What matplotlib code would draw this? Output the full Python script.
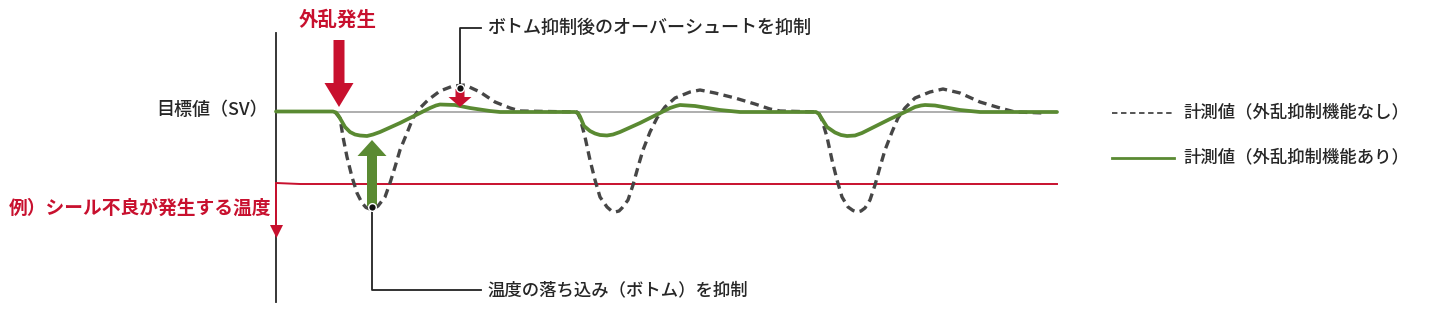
import matplotlib
matplotlib.use("Agg")
import matplotlib.pyplot as plt

plt.rcParams["font.family"] = ["Noto Sans CJK JP", "DejaVu Sans"]

RED = "#c8102e"
GREEN = "#5a8a32"
DASH = "#464646"
INK = "#262626"

# chart space is in picture pixels (y grows downward)
SV_LEVEL = 112
NG_LEVEL = 184
X_START, X_END = 276, 1057

# measured value, with disturbance suppression (green)
with_x = [276, 333, 336, 338, 341, 345, 350, 355, 360, 367, 373, 380, 400, 420, 430, 436, 440,
          455, 470, 490, 500,
          575, 578, 580, 584, 590, 595, 600, 607, 613, 620, 640, 660, 670, 676, 680, 695, 720, 740,
          816, 819, 822, 827, 835, 841, 847, 855, 862, 870, 890, 905, 915, 921, 925, 935, 960, 980,
          1057]
with_y = [111.5, 111.5, 112.5, 115, 120, 127, 132, 134.5, 135.5, 136, 134.5, 132, 123, 113, 108,
          105.5, 104.5, 105, 108, 111, 112,
          112, 113, 116.5, 126, 131, 133.5, 135, 135.5, 134.5, 132, 123, 113, 108, 106, 105, 106,
          110, 112,
          112, 114, 119, 127, 132.5, 135, 136, 135.5, 133, 129, 119, 112, 107, 105.5, 105, 105.5,
          110, 112, 112]

# measured value, without disturbance suppression (dashed)
without_x = [335, 340, 343, 347, 352, 357, 362, 366, 370, 374, 378, 385, 390, 395, 400, 407,
             413, 420, 428, 440, 453, 465, 480, 495, 510, 520,
             577, 580, 585, 590, 595, 600, 607, 611, 615, 619, 622, 628, 633, 638, 643, 650,
             657, 665, 675, 690, 700, 715, 735, 755, 770, 780,
             818, 822, 827, 832, 837, 842, 848, 853, 857, 861, 865, 870, 875, 880, 885, 892,
             898, 905, 915, 930, 943, 960, 980, 1000, 1015, 1045]
without_y = [112, 118, 137, 157, 177, 193, 203, 207.5, 209, 208.5, 206, 197, 183, 167, 150, 133,
             118, 108, 100, 91, 86, 85, 92, 102, 108, 111,
             112, 118, 137, 160, 180, 197, 207, 210.5, 212, 211, 208, 200, 185, 167, 150, 132,
             118, 107, 98, 92, 90, 93, 98, 104, 109, 111,
             112, 120, 137, 160, 180, 197, 207, 210.5, 212, 211, 208, 200, 185, 167, 150, 132,
             118, 108, 98, 92, 89, 93, 102, 108, 112, 113]

fig = plt.figure(figsize=(14.4, 3.1), dpi=100)
ax = fig.add_axes([0, 0, 1, 1])
ax.set_xlim(0, 1440)
ax.set_ylim(310, 0)
ax.axis("off")

# vertical axis, SV line, failure-temperature line
ax.plot([X_START, X_START], [33, 302], color=INK, lw=1.3, zorder=2)
ax.plot([X_START, X_END], [SV_LEVEL, SV_LEVEL], color="#999999", lw=1.1, zorder=1)
ax.plot([X_START, 300, X_END], [NG_LEVEL - 1, NG_LEVEL, NG_LEVEL], color=RED, lw=1.4, zorder=2)
ax.plot([X_START, X_START], [NG_LEVEL - 1, 228], color=RED, lw=1.4, zorder=3)
ax.fill([270, 283, 276.5], [225, 225, 238], color=RED, lw=0, zorder=3)

ax.plot(without_x, without_y, color=DASH, lw=2.4, dashes=(2.6, 1.6), zorder=4)
ax.plot(with_x, with_y, color=GREEN, lw=2.7, solid_capstyle="round",
        solid_joinstyle="round", zorder=5)

# arrows
ax.arrow(339, 40, 0, 67, width=11, head_width=29, head_length=24,
         length_includes_head=True, color=RED, lw=0, zorder=6)
ax.arrow(372, 206, 0, -66, width=10, head_width=29, head_length=16,
         length_includes_head=True, color=GREEN, lw=0, zorder=6)
ax.arrow(460, 89, 0, 18, width=9, head_width=23, head_length=10,
         length_includes_head=True, color=RED, lw=0, zorder=6)

# leaders and dots
ax.plot([460, 460, 481], [88, 28, 28], color="#222222", lw=1.3, zorder=6)
ax.plot([372, 372, 481], [207, 290, 290], color="#222222", lw=1.3, zorder=6)
ax.plot([460, 372], [88, 207], ls="none", marker="o", ms=5.5, mfc="#111111",
        mec="white", mew=1.0, zorder=7)

# labels
ax.text(338, 20, "外乱発生", color=RED, fontsize=14, fontweight="bold",
        ha="center", va="center")
ax.text(268, 110, "目標値（SV）", color=INK, fontsize=13, fontweight="medium",
        ha="right", va="center")
ax.text(271, 208, "例）シール不良が発生する温度", color=RED, fontsize=13.5,
        fontweight="bold", ha="right", va="center")
ax.text(487, 28, "ボトム抑制後のオーバーシュートを抑制", color=INK, fontsize=13,
        fontweight="medium", ha="left", va="center")
ax.text(487, 290, "温度の落ち込み（ボトム）を抑制", color=INK, fontsize=12.5,
        fontweight="medium", ha="left", va="center")

# legend
ax.plot([1112, 1174], [113, 113], color=DASH, lw=1.3, dashes=(3, 2))
ax.text(1183, 112, "計測値（外乱抑制機能なし）", color=INK, fontsize=12.5,
        fontweight="medium", ha="left", va="center")
ax.plot([1112, 1174], [158, 158], color=GREEN, lw=2.0)
ax.text(1183, 157, "計測値（外乱抑制機能あり）", color=INK, fontsize=12.5,
        fontweight="medium", ha="left", va="center")

fig.savefig("out.png", dpi=100)
